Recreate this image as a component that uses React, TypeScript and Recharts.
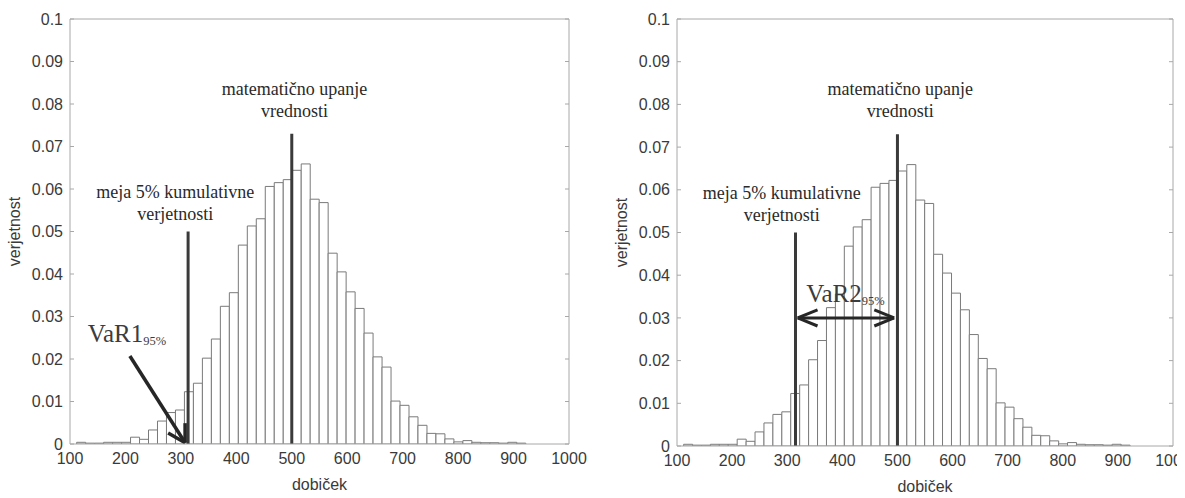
import React from 'react';
import { ComposedChart, Bar, XAxis, YAxis, ReferenceLine, ReferenceDot } from 'recharts';

// histogram bins (centre of each bin, profit "dobiček")
const binCenters = [
  120.1, 136.3, 152.5, 168.7, 184.9, 201.1, 217.3, 233.5, 249.7, 265.9,
  282.1, 298.3, 314.5, 330.7, 346.9, 363.1, 379.3, 395.5, 411.7, 427.9,
  444.1, 460.3, 476.5, 492.7, 508.9, 525.1, 541.3, 557.5, 573.7, 589.9,
  606.1, 622.3, 638.5, 654.7, 670.9, 687.1, 703.3, 719.5, 735.7, 751.9,
  768.1, 784.3, 800.5, 816.7, 832.9, 849.1, 865.3, 881.5, 897.7, 913.9,
];
// probability of each bin ("verjetnost")
const probabilities = [
  0.0004, 0.0002, 0.0002, 0.0004, 0.0004, 0.0004, 0.0016, 0.0011, 0.0033, 0.0054,
  0.0074, 0.0080, 0.0123, 0.0143, 0.0202, 0.0247, 0.0324, 0.0356, 0.0468, 0.0513,
  0.0530, 0.0606, 0.0615, 0.0622, 0.0644, 0.0659, 0.0576, 0.0568, 0.0449, 0.0405,
  0.0358, 0.0319, 0.0261, 0.0205, 0.0181, 0.0101, 0.0091, 0.0064, 0.0044, 0.0025,
  0.0024, 0.0012, 0.0005, 0.0008, 0.0004, 0.0003, 0.0003, 0.0002, 0.0004, 0.0002,
];

const xTicks = [100, 200, 300, 400, 500, 600, 700, 800, 900, 1000];
const yTicks = [0, 0.01, 0.02, 0.03, 0.04, 0.05, 0.06, 0.07, 0.08, 0.09, 0.1];
const yTickLabels = ['0', '0.01', '0.02', '0.03', '0.04', '0.05', '0.06', '0.07', '0.08', '0.09', '0.1'];

const xAxisTitle = 'dobiček';
const yAxisTitle = 'verjetnost';
const meanLabelLines = ['matematično upanje', 'vrednosti'];
const boundLabelLines = ['meja 5% kumulativne', 'verjetnosti'];

// marker values
const meanValue = 500;
const meanLineTop = 0.073;
const boundLineTop = 0.05;
const boundLeftChart = 313;
const boundRightChart = 315;
const meanLabelAnchor = { x: 505, y: 0.0821 };
const boundLabelAnchor = { x: 290, y: 0.0579 };

// VaR1 annotation (left chart)
const var1Text = { x: 132, y: 0.0241, main: 'VaR1', sub: '95%' };
const var1Shaft = [{ x: 208, y: 0.0207 }, { x: 307.6, y: 0.0003 }];
const var1HeadA = [{ x: 307.6, y: 0.0003 }, { x: 277, y: 0.0026 }];
const var1HeadB = [{ x: 307.6, y: 0.0003 }, { x: 307.6, y: 0.0049 }];

// VaR2 annotation (right chart)
const var2Text = { x: 334.5, y: 0.0338, main: 'VaR2', sub: '95%' };
const var2Shaft = [{ x: 319, y: 0.03 }, { x: 494, y: 0.03 }];
const var2Heads = [
  [{ x: 319, y: 0.03 }, { x: 355, y: 0.0319 }],
  [{ x: 319, y: 0.03 }, { x: 355, y: 0.0281 }],
  [{ x: 494, y: 0.03 }, { x: 458, y: 0.0319 }],
  [{ x: 494, y: 0.03 }, { x: 458, y: 0.0281 }],
];

const data = binCenters.map((x, i) => ({ x, p: probabilities[i] }));

const SANS = '"Liberation Sans", Arial, sans-serif';
const SERIF = '"Liberation Serif", "Times New Roman", serif';
const AXIS_GREY = '#a8a8a8';
const TICK_TEXT = '#3a3a3a';
const MARK_LINE = '#3a3a3a';
const ARROW = '#262626';

const yFormat = (v: number) => {
  const i = yTicks.indexOf(v);
  return i >= 0 ? yTickLabels[i] : String(v);
};
const blank = () => '';

const renderYTitle = (props: any) => {
  const vb = props.viewBox || {};
  const cx = (vb.x || 0) + 14;
  const cy = (vb.y || 0) + (vb.height || 0) / 2;
  return (
    <text
      x={cx}
      y={cy}
      transform={`rotate(-90 ${cx} ${cy})`}
      textAnchor="middle"
      dominantBaseline="central"
      fontFamily={SANS}
      fontSize={16}
      fill={TICK_TEXT}
    >
      {yAxisTitle}
    </text>
  );
};

const multiLineText = (key: string, pos: { x: number; y: number }, lines: string[]) => (
  <ReferenceDot
    key={key}
    x={pos.x}
    y={pos.y}
    r={0}
    shape={(p: any) => (
      <text
        x={p.cx}
        y={p.cy}
        textAnchor="middle"
        fontFamily={SERIF}
        fontSize={18}
        fill="#2a2a2a"
      >
        {lines.map((l, i) => (
          <tspan key={i} x={p.cx} dy={i === 0 ? 0 : 22}>
            {l}
          </tspan>
        ))}
      </text>
    )}
  />
);

const varText = (key: string, t: { x: number; y: number; main: string; sub: string }) => (
  <ReferenceDot
    key={key}
    x={t.x}
    y={t.y}
    r={0}
    shape={(p: any) => (
      <text x={p.cx} y={p.cy} textAnchor="start" fontFamily={SERIF} fontSize={25} fill="#3c3c3c">
        <tspan>{t.main}</tspan>
        <tspan fontSize={12.5} dy={3}>
          {t.sub}
        </tspan>
      </text>
    )}
  />
);

const seg = (key: string, pts: { x: number; y: number }[], color: string, width: number) => (
  <ReferenceLine
    key={key}
    segment={pts as any}
    stroke={color}
    strokeWidth={width}
    ifOverflow="visible"
  />
);

type PanelProps = {
  left: number;
  width: number;
  margin: { top: number; right: number; bottom: number; left: number };
  bound: number;
  variant: 1 | 2;
};

const Panel = ({ left, width, margin, bound, variant }: PanelProps) => (
  <div style={{ position: 'absolute', left, top: 0 }}>
    <ComposedChart
      width={width}
      height={498}
      data={data}
      margin={margin}
      barCategoryGap={0}
      barGap={0}
    >
      <XAxis
        dataKey="x"
        type="number"
        domain={[100, 1000]}
        ticks={xTicks}
        interval={0}
        allowDataOverflow
        height={50}
        tickLine={false}
        tickSize={0}
        tickMargin={9}
        axisLine={{ stroke: AXIS_GREY }}
        tick={{ fontFamily: SANS, fontSize: 16, fill: TICK_TEXT }}
        label={{
          value: xAxisTitle,
          position: 'insideBottom',
          offset: 4,
          style: { fontFamily: SANS, fontSize: 16, fill: TICK_TEXT },
        }}
      />
      <XAxis
        xAxisId="top"
        orientation="top"
        type="number"
        domain={[100, 1000]}
        ticks={xTicks}
        interval={0}
        allowDataOverflow
        mirror
        tickSize={4}
        tickFormatter={blank}
        axisLine={{ stroke: AXIS_GREY }}
        tickLine={{ stroke: AXIS_GREY }}
      />
      <XAxis
        xAxisId="bottomIn"
        orientation="bottom"
        type="number"
        domain={[100, 1000]}
        ticks={xTicks}
        interval={0}
        allowDataOverflow
        mirror
        tickSize={4}
        tickFormatter={blank}
        axisLine={false}
        tickLine={{ stroke: AXIS_GREY }}
      />
      <YAxis
        type="number"
        domain={[0, 0.1]}
        ticks={yTicks}
        interval={0}
        allowDataOverflow
        width={70}
        tickLine={false}
        tickSize={0}
        tickMargin={7}
        tickFormatter={yFormat}
        axisLine={{ stroke: AXIS_GREY }}
        tick={{ fontFamily: SANS, fontSize: 16, fill: TICK_TEXT }}
        label={renderYTitle}
      />
      <YAxis
        yAxisId="leftIn"
        orientation="left"
        type="number"
        domain={[0, 0.1]}
        ticks={yTicks}
        interval={0}
        allowDataOverflow
        mirror
        tickSize={4}
        tickFormatter={blank}
        axisLine={false}
        tickLine={{ stroke: AXIS_GREY }}
      />
      <YAxis
        yAxisId="right"
        orientation="right"
        type="number"
        domain={[0, 0.1]}
        ticks={yTicks}
        interval={0}
        allowDataOverflow
        mirror
        tickSize={4}
        tickFormatter={blank}
        axisLine={{ stroke: AXIS_GREY }}
        tickLine={{ stroke: AXIS_GREY }}
      />
      <Bar
        dataKey="p"
        fill="#ffffff"
        stroke="#7a7a7a"
        strokeWidth={1}
        isAnimationActive={false}
      />
      {seg('mean', [{ x: meanValue, y: 0 }, { x: meanValue, y: meanLineTop }], MARK_LINE, 3)}
      {seg('bound', [{ x: bound, y: 0 }, { x: bound, y: boundLineTop }], MARK_LINE, 3)}
      {multiLineText('meanLbl', meanLabelAnchor, meanLabelLines)}
      {multiLineText('boundLbl', boundLabelAnchor, boundLabelLines)}
      {variant === 1 && seg('v1s', var1Shaft, ARROW, 3.5)}
      {variant === 1 && seg('v1a', var1HeadA, ARROW, 3.5)}
      {variant === 1 && seg('v1b', var1HeadB, ARROW, 3.5)}
      {variant === 1 && varText('v1t', var1Text)}
      {variant === 2 && seg('v2s', var2Shaft, ARROW, 3)}
      {variant === 2 && var2Heads.map((h, i) => seg('v2h' + i, h, ARROW, 3))}
      {variant === 2 && varText('v2t', var2Text)}
    </ComposedChart>
  </div>
);

export default function App() {
  return (
    <div
      style={{
        position: 'absolute',
        left: 0,
        top: 0,
        width: 1185,
        height: 498,
        overflow: 'hidden',
        background: '#ffffff',
      }}
    >
      <Panel left={0} width={600} margin={{ top: 19, right: 31, bottom: 4, left: 0 }} bound={boundLeftChart} variant={1} />
      <Panel left={607} width={570} margin={{ top: 19, right: 4, bottom: 2, left: 0 }} bound={boundRightChart} variant={2} />
    </div>
  );
}
